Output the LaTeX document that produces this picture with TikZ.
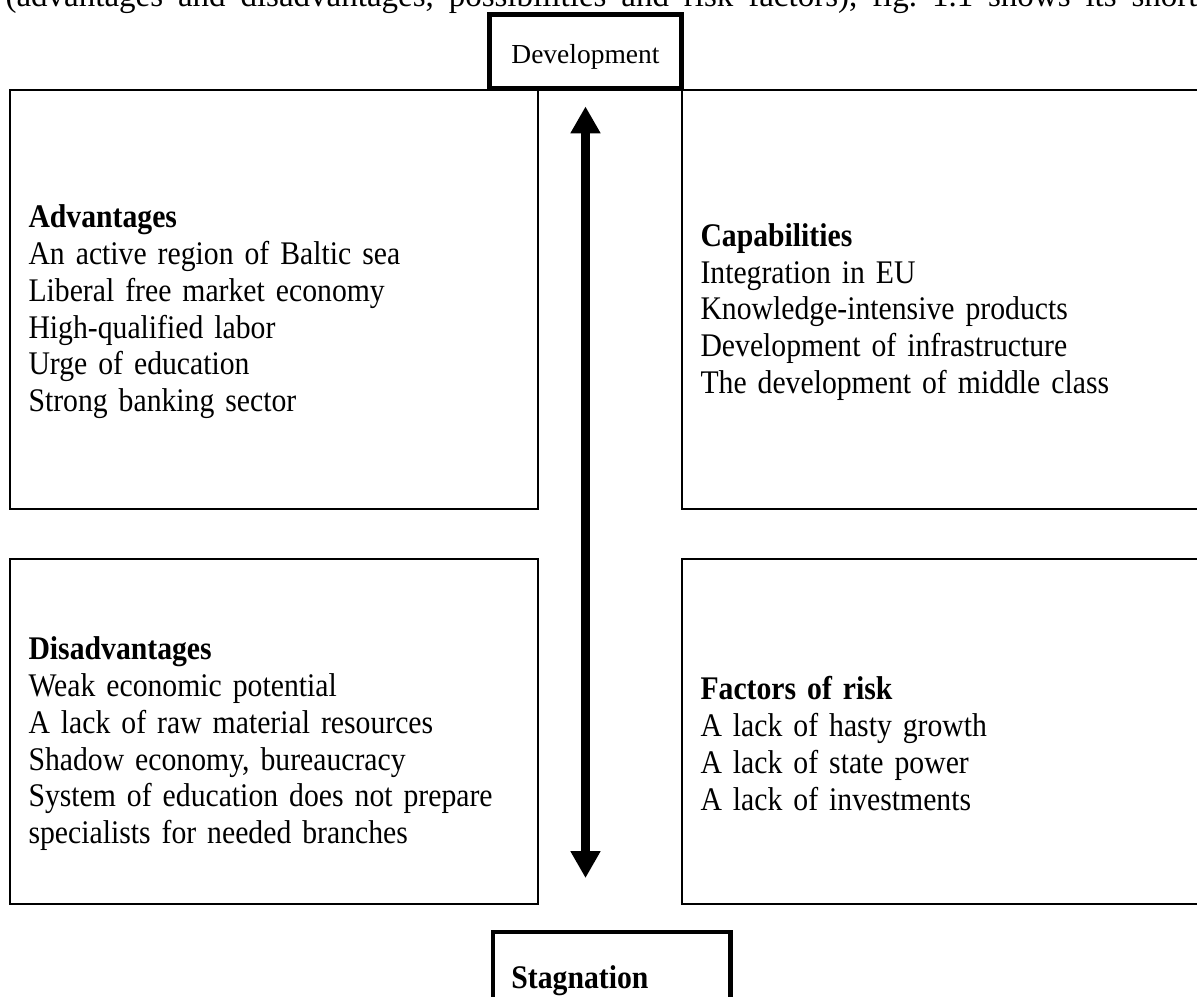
\documentclass[tikz,border=0pt]{standalone}
\usepackage{fontspec}
\setmainfont{Liberation Serif}[FakeStretch=0.9]
\newfontfamily\plainserif{Liberation Serif}
\usepackage{tikz}
\usetikzlibrary{arrows.meta}
\frenchspacing
\tikzstyle{quad} = [draw, line width=0.8pt,
	anchor=north west, align=left,
	inner xsep=6.7pt, inner ysep=0pt,
	text width=178.5pt,
	font=\fontsize{12pt}{13.35pt}\selectfont]
\tikzstyle{heavy} = [draw, line width=1.8pt, fill=white]
\tikzstyle{twoway} = [{Triangle[length=9.8pt, width=10.3pt]}-{Triangle[length=9.8pt, width=10.3pt]}, line width=3.3pt]
\newcommand{\boxhead}[1]{\rule{0pt}{17.2pt}\textbf{#1}}

\begin{document}
\begin{tikzpicture}[x=0.3636pt, y=-0.3636pt]
	\useasboundingbox (0,0) rectangle (1197,997);
	% line of the page above the figure
	\node (above) [anchor=base west, inner sep=0pt, font=\plainserif\fontsize{12pt}{13.35pt}\selectfont] at (5,6) {\makebox[433.4pt][s]{(advantages and disadvantages, possibilities and risk factors), fig. 1.1 shows its short}};
	
	\node (adv) [quad, minimum height=152.4pt] at (9,89) {\boxhead{Advantages}\\
		An active region of Baltic sea\\
		Liberal free market economy\\
		High-qualified labor\\
		Urge of education\\
		Strong banking sector};
	\node (cap) [quad, minimum height=152.4pt] at (681,89) {\boxhead{Capabilities}\\
		Integration in EU\\
		Knowledge-intensive products\\
		Development of infrastructure\\
		The development of middle class};
	\node (dis) [quad, minimum height=125.4pt] at (9,558) {\boxhead{Disadvantages}\\
		Weak economic potential\\
		A lack of raw material resources\\
		Shadow economy, bureaucracy\\
		System of education does not prepare\\
		specialists for needed branches};
	\node (risk) [quad, minimum height=125.4pt] at (681,558) {\boxhead{Factors of risk}\\
		A lack of hasty growth\\
		A lack of state power\\
		A lack of investments};
	
	\node (dev) [heavy, minimum width=69.8pt, minimum height=26.9pt, font=\plainserif\fontsize{10pt}{12pt}\selectfont] at (585.5,51.5) {\rule{0pt}{11pt}Development};
	\node (stag) [heavy, anchor=north west, align=left, inner xsep=6.7pt, text width=72.8pt, minimum height=29pt, font=\fontsize{12pt}{13.35pt}\selectfont] at (490.5,929.5) {\rule{0pt}{14.8pt}\textbf{Stagnation}};
	
	\draw [twoway, shorten <=5.6pt, shorten >=18.7pt] (dev.south) -- (dev.south |- stag.north);
\end{tikzpicture}
\end{document}
